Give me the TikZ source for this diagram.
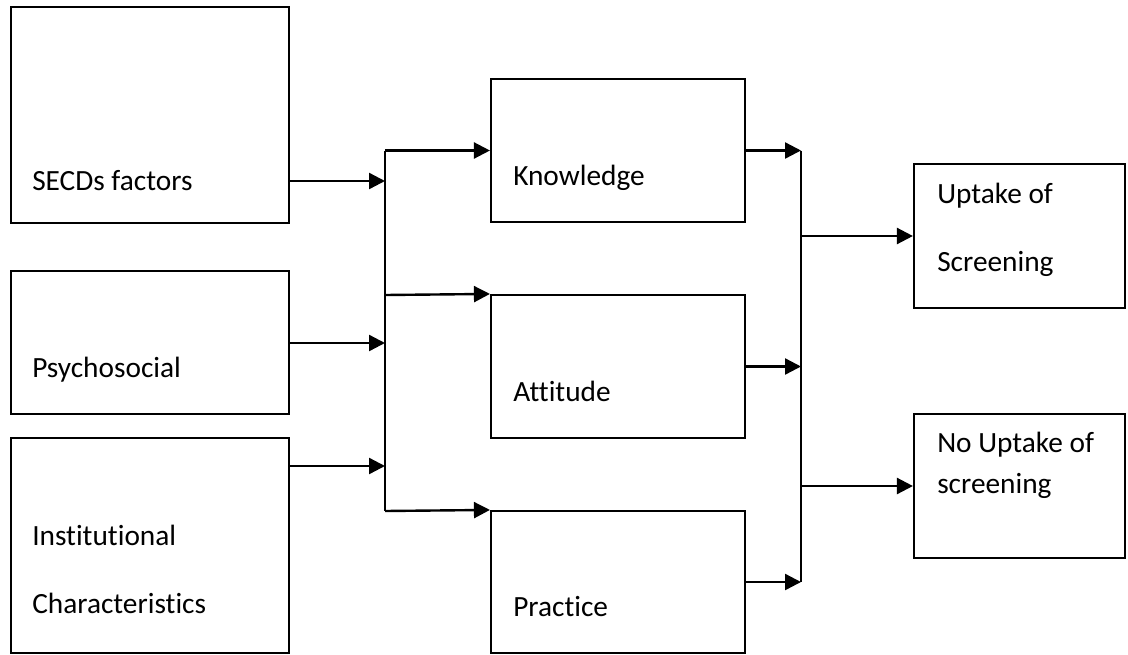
\documentclass[tikz,border=0pt]{standalone}
\usepackage{fontspec}
\setmainfont{Carlito}[Ligatures=NoCommon]
\usetikzlibrary{arrows.meta,calc}
\tikzset{
  box/.style={draw,rectangle,inner sep=0pt,line width=1.6pt},
  leftbox/.style={box,minimum width=208.5pt},
  midbox/.style={box,minimum width=190.5pt,minimum height=107.25pt},
  outbox/.style={box,minimum width=158.25pt,minimum height=108pt},
  lbl/.style={anchor=base west,inner sep=0pt,font=\fontsize{22}{26}\selectfont},
  arr/.style={-{Triangle[length=12pt,width=12pt]},line width=1.8pt},
}
\begin{document}
\begin{tikzpicture}[x=0.75pt,y=-0.75pt]
  \useasboundingbox (0,0) rectangle (1128,654);
  % factor boxes
  \node[leftbox,minimum height=162pt] (secd) at (150,115) {};
  \node[leftbox,minimum height=107.25pt] (psy) at (150,342.5) {};
  \node[leftbox,minimum height=161.25pt] (inst) at (150,545.5) {};
  \node[lbl] (secdtxt) at (32,190) {SECDs factors};
  \node[lbl] (psytxt) at (32,377) {Psychosocial};
  \node[lbl] (insttxt) at (32,545) {Institutional};
  \node[lbl] (insttxtb) at (32,613) {Characteristics};
  % KAP boxes
  \node[midbox] (know) at (618,150.5) {};
  \node[midbox] (att) at (618,366.5) {};
  \node[midbox,minimum height=106.5pt] (prac) at (618,582) {};
  \node[lbl] (knowtxt) at (513,185) {Knowledge};
  \node[lbl] (atttxt) at (513,401) {Attitude};
  \node[lbl] (practxt) at (513,616) {Practice};
  % outcome boxes
  \node[outbox] (up) at (1019.5,236) {};
  \node[outbox] (noup) at (1019.5,486) {};
  \node[lbl] (uptxt) at (937,203) {Uptake of};
  \node[lbl] (uptxtb) at (937,271) {Screening};
  \node[lbl] (nouptxt) at (937,452) {No Uptake of};
  \node[lbl] (nouptxtb) at (937,493) {screening};
  % left bar
  \coordinate (ltop) at (385,150.5);
  \coordinate (lmid) at (385,295);
  \coordinate (lbot) at (385,511);
  \coordinate (l1) at (385,181);
  \coordinate (l2) at (385,343);
  \coordinate (l3) at (385,466);
  \draw[line width=1.8pt] (ltop) -- (lbot);
  \draw[arr] (secd.east |- l1) -- (l1);
  \draw[arr] (psy.east |- l2) -- (l2);
  \draw[arr] (inst.east |- l3) -- (l3);
  \draw[arr] (ltop) -- (know.west);
  \draw[arr] (lmid) -- (att.north west);
  \draw[arr] (lbot) -- (prac.north west);
  % right bar
  \coordinate (rtop) at (801,150.5);
  \coordinate (rmid) at (801,366.5);
  \coordinate (rbot) at (801,582);
  \draw[line width=1.8pt] (rtop) -- (rbot);
  \draw[arr] (know.east) -- (rtop);
  \draw[arr] (att.east) -- (rmid);
  \draw[arr] (prac.east) -- (rbot);
  \draw[arr] (up.west -| rtop) -- (up.west);
  \draw[arr] (noup.west -| rtop) -- (noup.west);
\end{tikzpicture}
\end{document}
